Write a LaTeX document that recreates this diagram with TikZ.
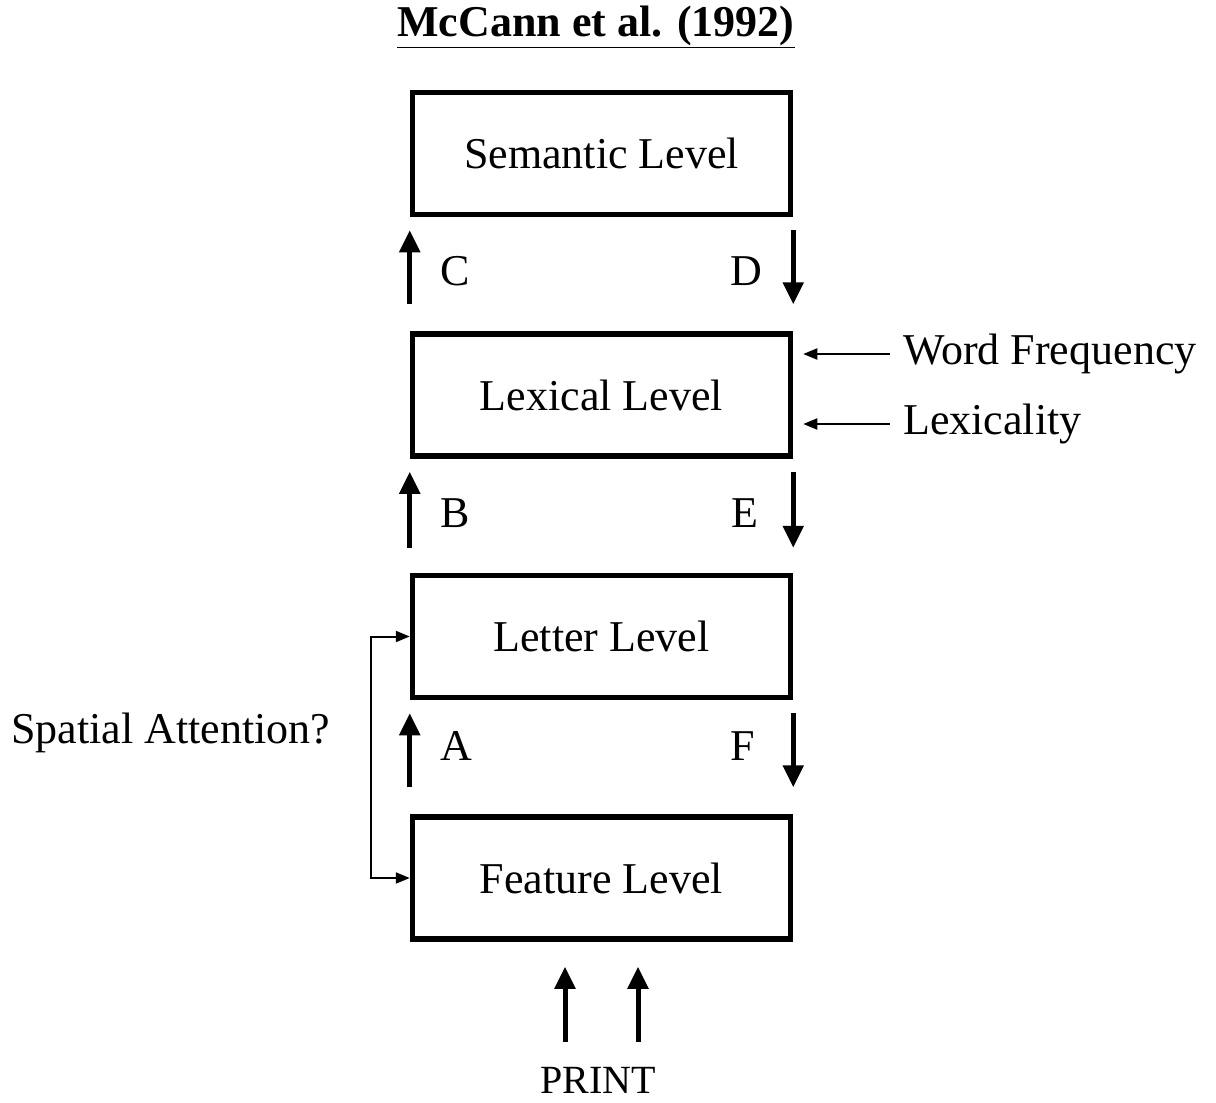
\documentclass[tikz,border=0pt]{standalone}
\usepackage{fontspec}
\setmainfont{Liberation Serif}
\usepackage{tikz}
\usetikzlibrary{positioning,arrows.meta,calc}

\begin{document}
\begin{tikzpicture}[x=1pt,y=-1pt,
  level/.style={draw,line width=5.5pt,minimum width=378pt,minimum height=122pt,font=\fontsize{44}{52}\selectfont},
  lbl/.style={font=\fontsize{44}{52}\selectfont,inner sep=0pt},
  arr/.style={-{Triangle[length=22pt,width=20pt]},line width=5pt},
  thinarr/.style={-{Triangle[length=14pt,width=11pt]},line width=2pt}
]
\useasboundingbox (0,0) rectangle (1216,1103);
\node[lbl,font=\fontsize{44}{52}\selectfont\bfseries] (title) at (596,27) {\underline{McCann et al. (1992)}};
\node[level] (sem) at (601.5,153.5) {Semantic Level};
\node[level,below=114pt of sem] (lex) {Lexical Level};
\node[level,below=114pt of lex] (let) {Letter Level};
\node[level,below=114pt of let] (feat) {Feature Level};

% up and down links between levels
\draw[arr] ([yshift=27pt]lex.north west) -- ([yshift=-13pt]sem.south west);
\draw[arr] ([yshift=-13pt]sem.south east) -- ([yshift=27pt]lex.north east);
\draw[arr] ([yshift=25pt]let.north west) -- ([yshift=-13pt]lex.south west);
\draw[arr] ([yshift=-13pt]lex.south east) -- ([yshift=25pt]let.north east);
\draw[arr] ([yshift=27pt]feat.north west) -- ([yshift=-13pt]let.south west);
\draw[arr] ([yshift=-13pt]let.south east) -- ([yshift=27pt]feat.north east);
\node[lbl] (c) at (455,271) {C};
\node[lbl] (d) at (746,271) {D};
\node[lbl] (b) at (455,513) {B};
\node[lbl] (e) at (745,513) {E};
\node[lbl] (a) at (456,746) {A};
\node[lbl] (f) at (743,746) {F};

% lexical influences
\node[lbl,anchor=west] (wf) at (903,354) {Word Frequency};
\node[lbl,anchor=west] (lx) at (903,424) {Lexicality};
\draw[thinarr] ([xshift=-13pt]wf.west) -- ([xshift=10pt]lex.east |- wf.west);
\draw[thinarr] ([xshift=-13pt]lx.west) -- ([xshift=10pt]lex.east |- lx.west);

% spatial attention
\node[lbl] (sa) at (171,733) {Spatial Attention?};
\draw[{Triangle[length=14pt,width=11pt]}-{Triangle[length=14pt,width=11pt]},line width=2pt]
  (let.west) -- ++(-39,0) |- (feat.west);

% input
\node[lbl,font=\fontsize{40}{48}\selectfont] (print) at (598,1080) {PRINT};
\draw[arr] ([xshift=-36.5pt,yshift=-100pt]feat.south) -- ([xshift=-36.5pt,yshift=-25pt]feat.south);
\draw[arr] ([xshift=36.5pt,yshift=-100pt]feat.south) -- ([xshift=36.5pt,yshift=-25pt]feat.south);
\end{tikzpicture}
\end{document}
